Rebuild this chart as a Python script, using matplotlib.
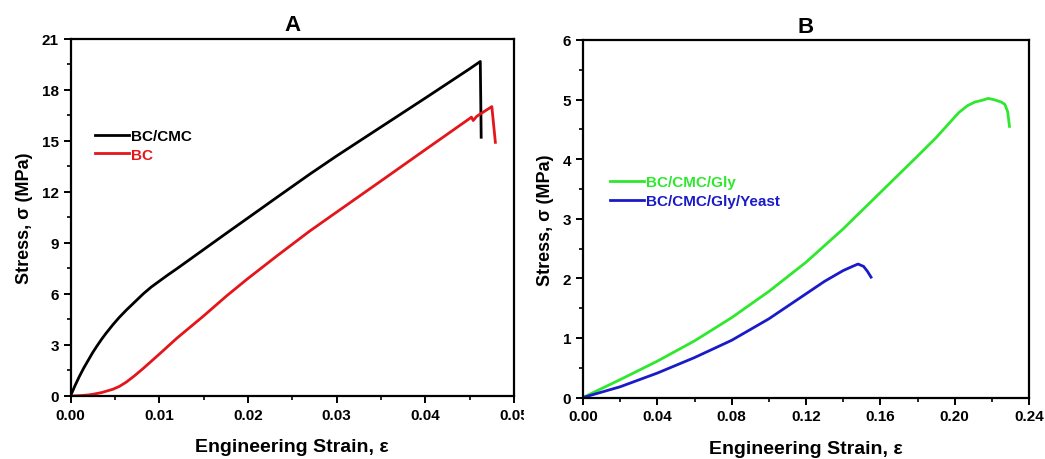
import numpy as np
import matplotlib
matplotlib.use("Agg")
import matplotlib.pyplot as plt
from matplotlib.ticker import MultipleLocator, FormatStrFormatter
from matplotlib.transforms import Bbox

plt.rcParams['font.family'] = ['Liberation Sans', 'DejaVu Sans']
plt.rcParams['font.weight'] = 'bold'

# panel A data (strain, stress in MPa)
bccmc_x = [0, 0.0005, 0.001, 0.0015, 0.002, 0.0025, 0.003, 0.0035, 0.004, 0.0048,
           0.0055, 0.0063, 0.0072, 0.0082, 0.0091, 0.0101, 0.011, 0.012, 0.015,
           0.0176, 0.0199, 0.0233, 0.027, 0.030, 0.035, 0.040, 0.045, 0.0462, 0.0463]
bccmc_y = [0, 0.6, 1.15, 1.65, 2.1, 2.55, 2.95, 3.33, 3.68, 4.2,
           4.62, 5.05, 5.5, 6.0, 6.4, 6.78, 7.12, 7.48, 8.6,
           9.57, 10.42, 11.68, 13.04, 14.1, 15.8, 17.5, 19.22, 19.65, 15.2]

bc_x = [0, 0.001, 0.002, 0.0025, 0.0035, 0.0048, 0.0055, 0.0063, 0.0072, 0.0082,
        0.0101, 0.012, 0.015, 0.0176, 0.0199, 0.0233, 0.027, 0.030, 0.035, 0.040,
        0.045, 0.0452, 0.0454, 0.0458, 0.0475, 0.0479]
bc_y = [0, 0.02, 0.06, 0.1, 0.2, 0.4, 0.56, 0.82, 1.18, 1.62,
        2.5, 3.4, 4.7, 5.88, 6.86, 8.24, 9.7, 10.8, 12.63, 14.47,
        16.3, 16.38, 16.18, 16.43, 17.0, 14.9]

# panel B data
gly_x = [0, 0.02, 0.04, 0.06, 0.08, 0.10, 0.12, 0.14, 0.16, 0.18, 0.19,
         0.1975, 0.2025, 0.207, 0.211, 0.215, 0.218, 0.221, 0.225, 0.227,
         0.2285, 0.2295]
gly_y = [0, 0.3, 0.61, 0.95, 1.34, 1.78, 2.27, 2.83, 3.44, 4.05, 4.36,
         4.62, 4.79, 4.9, 4.96, 4.99, 5.02, 5.0, 4.96, 4.92,
         4.8, 4.55]

yeast_x = [0, 0.02, 0.04, 0.06, 0.08, 0.10, 0.12, 0.13, 0.14, 0.145, 0.148,
           0.151, 0.153, 0.155]
yeast_y = [0, 0.18, 0.41, 0.67, 0.96, 1.32, 1.74, 1.95, 2.13, 2.2, 2.24,
           2.2, 2.12, 2.02]

fig = plt.figure(figsize=(10.45, 4.6), dpi=100)
axA = fig.add_axes([70.5/1045, 63/460, 443.5/1045, 357.5/460])
axB = fig.add_axes([583/1045, 61.5/460, 446/1045, 357.5/460])


def style(ax):
    for s in ax.spines.values():
        s.set_linewidth(1.6)
    ax.tick_params(which='major', direction='out', length=5, width=1.4,
                   labelsize=11, top=False, right=False)
    ax.tick_params(which='minor', direction='out', length=3, width=1.2,
                   top=False, right=False)
    ax.xaxis.set_major_formatter(FormatStrFormatter('%.2f'))
    ax.set_xlabel('Engineering Strain, ε', fontsize=14, fontweight='bold', labelpad=12)
    ax.set_ylabel('Stress, σ (MPa)', fontsize=13, fontweight='bold', labelpad=6)


axA.plot(bccmc_x, bccmc_y, color='black', lw=2, label='BC/CMC')
axA.plot(bc_x, bc_y, color='#e3161b', lw=2, label='BC')
axA.set_xlim(0, 0.05)
axA.set_ylim(0, 21)
axA.xaxis.set_major_locator(MultipleLocator(0.01))
axA.xaxis.set_minor_locator(MultipleLocator(0.005))
axA.yaxis.set_major_locator(MultipleLocator(3))
axA.yaxis.set_minor_locator(MultipleLocator(1.5))
axA.set_title('A', fontsize=16, fontweight='bold', pad=6)
style(axA)
legA = axA.legend(loc='upper left', bbox_to_anchor=(0.025, 0.785), frameon=False,
                  handlelength=2.2, handletextpad=0.15, labelspacing=0.3,
                  prop={'weight': 'bold', 'size': 11})
for t, c in zip(legA.get_texts(), ['black', '#e3161b']):
    t.set_color(c)

axB.plot(gly_x, gly_y, color='#2ee82e', lw=2, label='BC/CMC/Gly')
axB.plot(yeast_x, yeast_y, color='#1a1ac8', lw=2, label='BC/CMC/Gly/Yeast')
axB.set_xlim(0, 0.24)
axB.set_ylim(0, 6)
axB.xaxis.set_major_locator(MultipleLocator(0.04))
axB.xaxis.set_minor_locator(MultipleLocator(0.02))
axB.yaxis.set_major_locator(MultipleLocator(1))
axB.yaxis.set_minor_locator(MultipleLocator(0.5))
axB.set_title('B', fontsize=16, fontweight='bold', pad=6)
style(axB)
legB = axB.legend(loc='upper left', bbox_to_anchor=(0.03, 0.66), frameon=False,
                  handlelength=2.2, handletextpad=0.15, labelspacing=0.3,
                  prop={'weight': 'bold', 'size': 11})
for t, c in zip(legB.get_texts(), ['#2ee82e', '#1a1ac8']):
    t.set_color(c)

# last tick label of panel A is cut off in the original
fig.canvas.draw()
clip = Bbox.from_extents(0, 0, 524, 460)
for lab in axA.get_xticklabels():
    lab.set_clip_box(clip)
    lab.set_clip_on(True)

fig.savefig('out.png', dpi=100)
